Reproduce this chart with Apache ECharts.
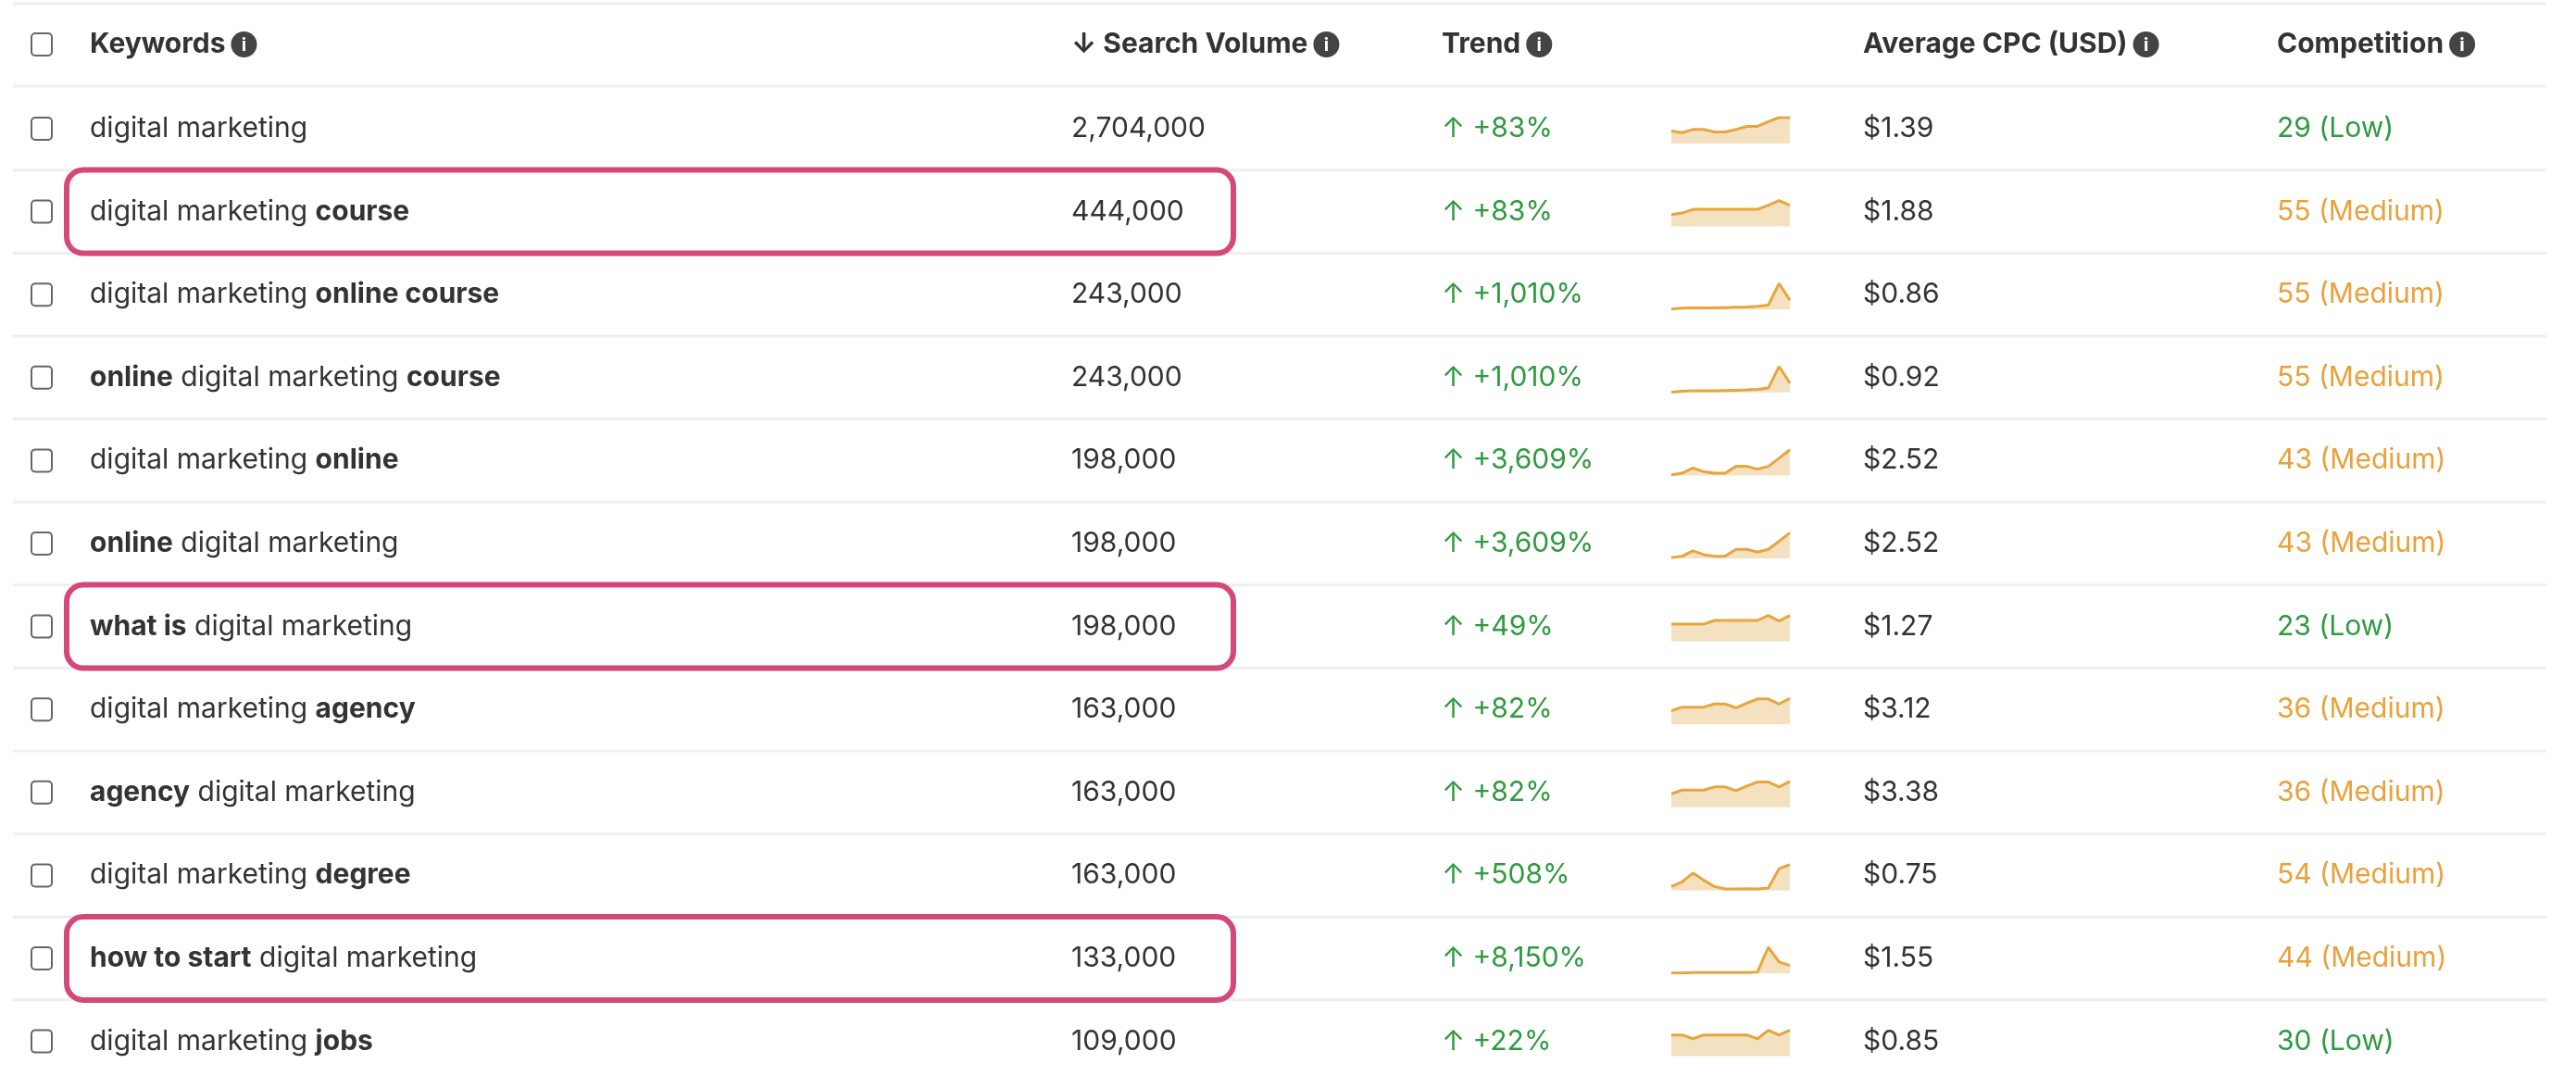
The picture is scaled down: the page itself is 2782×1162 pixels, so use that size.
<!DOCTYPE html>
<html><head><meta charset="utf-8">
<script src="https://cdn.jsdelivr.net/npm/echarts@6/dist/echarts.min.js"></script>
<style>html,body{margin:0;background:#fff}#main{width:2782px;height:1162px}</style>
</head><body><div id="main"></div>
<script>
// table data
var headers = ['Keywords', 'Search Volume', 'Trend', 'Average CPC (USD)', 'Competition'];
var keywords = [
  'digital marketing',
  'digital marketing {b|course}',
  'digital marketing {b|online course}',
  '{b|online} digital marketing {b|course}',
  'digital marketing {b|online}',
  '{b|online} digital marketing',
  '{b|what is} digital marketing',
  'digital marketing {b|agency}',
  '{b|agency} digital marketing',
  'digital marketing {b|degree}',
  '{b|how to start} digital marketing',
  'digital marketing {b|jobs}'
];
var volumes = ['2,704,000', '444,000', '243,000', '243,000', '198,000', '198,000', '198,000', '163,000', '163,000', '163,000', '133,000', '109,000'];
var trendPct = ['+83%', '+83%', '+1,010%', '+1,010%', '+3,609%', '+3,609%', '+49%', '+82%', '+82%', '+508%', '+8,150%', '+22%'];
var cpc = ['$1.39', '$1.88', '$0.86', '$0.92', '$2.52', '$2.52', '$1.27', '$3.12', '$3.38', '$0.75', '$1.55', '$0.85'];
var competition = ['29 (Low)', '55 (Medium)', '55 (Medium)', '55 (Medium)', '43 (Medium)', '43 (Medium)', '23 (Low)', '36 (Medium)', '36 (Medium)', '54 (Medium)', '44 (Medium)', '30 (Low)'];
var highlighted = [1, 6, 10];
// monthly trend sparklines (12 months)
var trends = [
  [40, 35, 45, 45, 37, 37, 45, 55, 55, 70, 83, 83],
  [38, 43, 55, 55, 55, 55, 55, 55, 55, 68, 83, 68],
  [1, 4, 5, 5, 5, 6, 7, 8, 10, 14, 83, 30],
  [1, 4, 5, 5, 5, 6, 7, 8, 10, 14, 83, 30],
  [2, 7, 24, 12, 7, 7, 29, 29, 20, 29, 55, 82],
  [2, 7, 24, 12, 7, 7, 29, 29, 20, 29, 55, 82],
  [55, 55, 55, 55, 67, 67, 67, 67, 67, 83, 65, 83],
  [43, 55, 55, 55, 65, 65, 53, 68, 81, 81, 65, 83],
  [43, 55, 55, 55, 65, 65, 53, 68, 81, 81, 65, 83],
  [12, 27, 55, 32, 12, 4, 4, 5, 4, 7, 69, 82],
  [1, 1, 2, 2, 2, 2, 2, 2, 4, 83, 36, 25],
  [68, 68, 56, 68, 68, 68, 68, 68, 56, 83, 68, 83]
];
var months = ['1','2','3','4','5','6','7','8','9','10','11','12'];

var FONT = '"Inter", "Noto Sans", sans-serif';
var TXT = '#333', GREEN = '#2f9a3f', ORANGE = '#e8a23c';
var headY = 48, row0 = 139, rowH = 89.6;
var colX = [97, 1157, 1557, 2012, 2459];
var sparkX = 1805, sparkW = 128;

var cv = document.createElement('canvas').getContext('2d');
function textW(s, weight) { cv.font = weight + ' 30px Inter'; return cv.measureText(s).width; }

var graphic = [], grids = [], xAxes = [], yAxes = [], series = [];

function line(y) {
  graphic.push({type: 'line', shape: {x1: 14, y1: y, x2: 2750, y2: y}, style: {stroke: '#efefef', lineWidth: 3}});
}
function checkbox(y) {
  graphic.push({type: 'rect', shape: {x: 34, y: y - 12, width: 22, height: 24, r: 4}, style: {fill: '#fff', stroke: '#666', lineWidth: 2}});
}
function info(x, y) {
  graphic.push({type: 'circle', shape: {cx: x, cy: y, r: 14}, style: {fill: '#444'}});
  graphic.push({type: 'text', x: x, y: y + 1, style: {text: 'i', fill: '#fff', font: 'bold 20px ' + FONT, align: 'center', verticalAlign: 'middle'}});
}
function text(x, y, s, color, weight, rich) {
  graphic.push({type: 'text', x: x, y: y, style: {text: s, fill: color, font: (weight || 'normal') + ' 30px ' + FONT, verticalAlign: 'middle',
    rich: rich ? {b: {fontWeight: 'bold', fontSize: 30, fontFamily: FONT, fill: TXT}} : undefined}});
}

line(4);
checkbox(headY);
headers.forEach(function (h, i) {
  var label = (i === 1 ? '↓ ' : '') + h;
  var x = colX[i] - (i === 1 ? 0 : 0);
  text(x, headY, label, TXT, 'bold');
  info(x + textW(label, 'bold') + 20, headY);
});
line(93);

keywords.forEach(function (k, i) {
  var y = row0 + i * rowH;
  checkbox(y);
  text(colX[0], y, k, TXT, 'normal', true);
  text(colX[1], y, volumes[i], TXT);
  text(colX[2], y, '↑ ' + trendPct[i], GREEN);
  text(colX[3], y, cpc[i], TXT);
  var low = competition[i].indexOf('Low') >= 0;
  text(colX[4], y, competition[i], low ? GREEN : ORANGE);
  line(y + rowH / 2);
  if (highlighted.indexOf(i) >= 0) {
    graphic.push({type: 'rect', z: 10, shape: {x: 72, y: y - 45, width: 1260, height: 90, r: 18},
      style: {fill: 'none', stroke: '#d4497a', lineWidth: 6}});
  }
  grids.push({left: sparkX, top: y - 12, width: sparkW, height: 28});
  xAxes.push({type: 'category', gridIndex: i, data: months, boundaryGap: false, show: false});
  yAxes.push({type: 'value', gridIndex: i, min: 0, max: 83, show: false});
  series.push({type: 'line', xAxisIndex: i, yAxisIndex: i, data: trends[i], symbol: 'none', silent: true,
    lineStyle: {color: '#e8a53e', width: 3}, areaStyle: {color: '#f3e1c0', opacity: 1}});
});

var chart = echarts.init(document.getElementById('main'));
chart.setOption({animation: false, grid: grids, xAxis: xAxes, yAxis: yAxes, series: series, graphic: graphic});
</script></body></html>
